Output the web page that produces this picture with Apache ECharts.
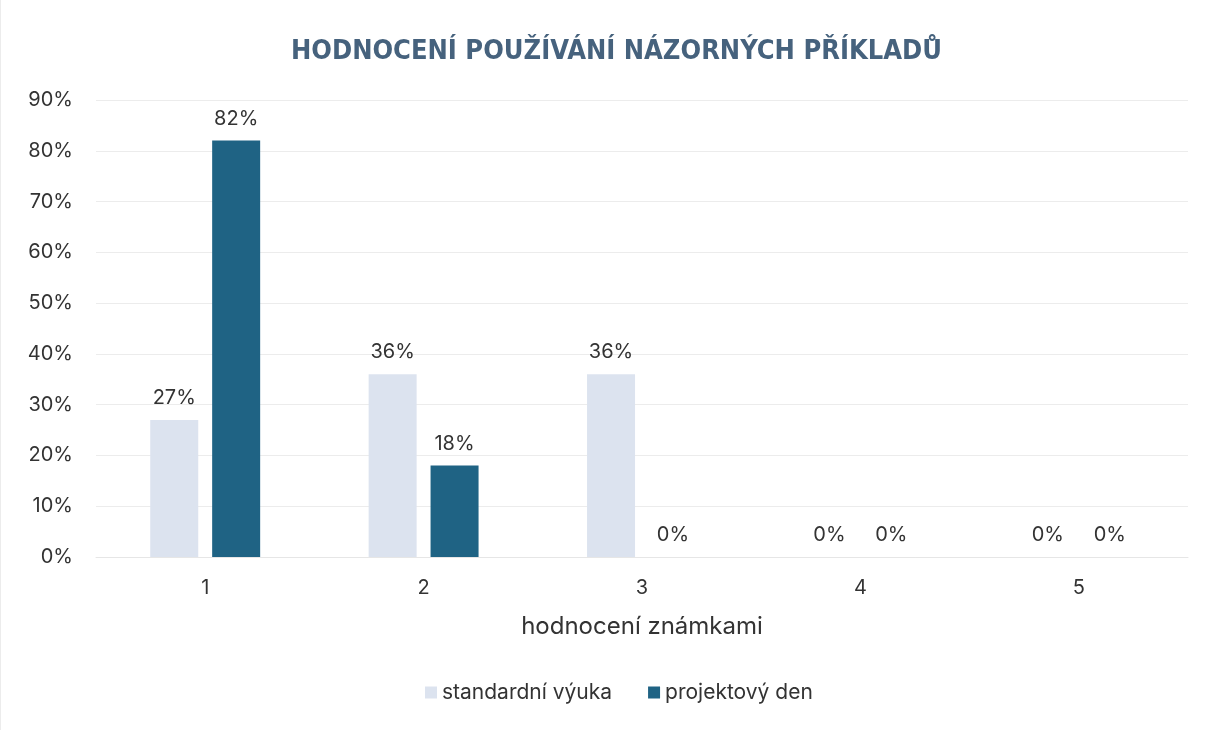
<!DOCTYPE html>
<html>
<head>
<meta charset="utf-8">
<script src="https://cdn.jsdelivr.net/npm/echarts@6/dist/echarts.min.js"></script>
<style>
  html, body { margin: 0; padding: 0; background: #fff; }
  #chart { width: 1205px; height: 730px; box-sizing: border-box; border-left: 1px solid #ececec; }
</style>
</head>
<body>
<div id="chart"></div>
<script>
// hodnocení známkami 1-5
var categories = ['1', '2', '3', '4', '5'];
var standardniVyuka = [27, 36, 36, 0, 0];
var projektovyDen = [82, 18, 0, 0, 0];
var yMax = 90;
var yStep = 10;

var myChart = echarts.init(document.getElementById('chart'));

var font = 'Inter, Roboto, sans-serif';

var barLabel = {
    show: true,
    position: 'top',
    distance: 12,
    formatter: '{c}%',
    color: '#333',
    fontSize: 20,
    fontFamily: font
};

var option = {
    backgroundColor: '#fff',
    title: {
        text: 'HODNOCENÍ POUŽÍVÁNÍ NÁZORNÝCH PŘÍKLADŮ',
        left: 285,
        top: 33,
        textStyle: {
            fontFamily: '"Liberation Sans Narrow", "DejaVu Sans Condensed", sans-serif',
            fontWeight: 'bold',
            fontSize: 27,
            color: '#46627d'
        }
    },
    legend: {
        bottom: 22,
        left: 419,
        itemWidth: 12,
        itemHeight: 12,
        itemGap: 36,
        icon: 'rect',
        textStyle: {
            fontSize: 21,
            color: '#333',
            fontFamily: font
        },
        data: ['standardní výuka', 'projektový den']
    },
    grid: {
        left: 95,
        right: 17,
        top: 100,
        bottom: 173
    },
    xAxis: {
        type: 'category',
        data: categories,
        name: 'hodnocení známkami',
        nameLocation: 'middle',
        nameGap: 58,
        nameTextStyle: {
            fontSize: 24,
            color: '#333',
            fontFamily: font
        },
        axisLine: { lineStyle: { color: '#e6e6e6' } },
        axisTick: { show: false },
        axisLabel: {
            margin: 21,
            fontSize: 20,
            color: '#333',
            fontFamily: font
        }
    },
    yAxis: {
        type: 'value',
        min: 0,
        max: yMax,
        interval: yStep,
        axisLabel: {
            formatter: '{value}%',
            margin: 23,
            fontSize: 20,
            color: '#333',
            fontFamily: font
        },
        splitLine: { lineStyle: { color: '#ececec', width: 1 } },
        axisLine: { show: false },
        axisTick: { show: false }
    },
    series: [{
        name: 'standardní výuka',
        type: 'bar',
        barWidth: 48,
        barGap: '29%',
        itemStyle: { color: '#dce3ef' },
        label: barLabel,
        data: standardniVyuka
    }, {
        name: 'projektový den',
        type: 'bar',
        barWidth: 48,
        barGap: '29%',
        itemStyle: { color: '#1f6384' },
        label: barLabel,
        data: projektovyDen
    }]
};

myChart.setOption(option);
</script>
</body>
</html>
